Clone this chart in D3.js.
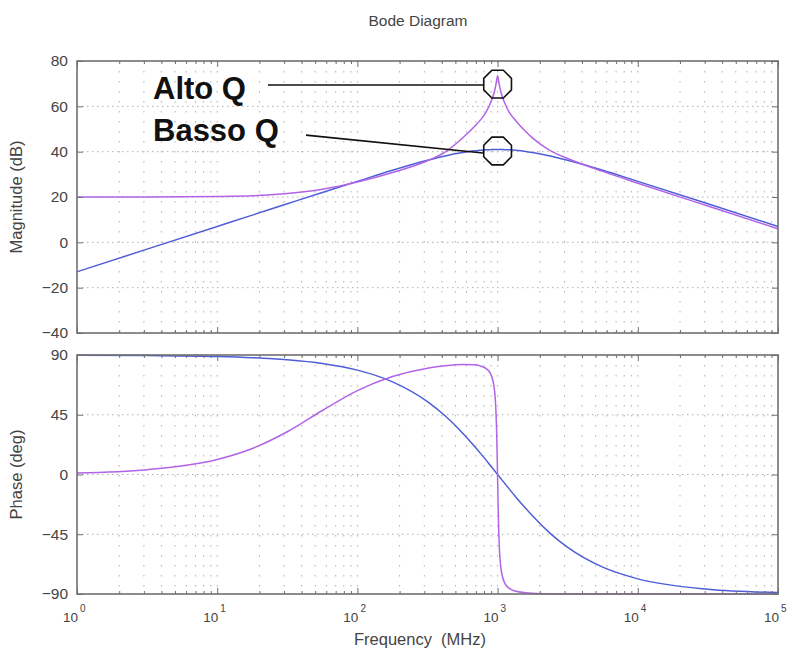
<!DOCTYPE html>
<html>
<head>
<meta charset="utf-8">
<script src="https://cdn.jsdelivr.net/npm/d3@7"></script>
<style>
  body { margin: 0; background: #fff; }
  svg text { font-family: "Liberation Sans", Arial, sans-serif; }
</style>
</head>
<body>
<svg id="chart" width="792" height="655"></svg>
<script>
// frequency samples (MHz), denser around the resonance at 1 GHz
const freq = [1, 3.16, 10, 17.8, 31.6, 56.2, 100, 178, 316, 422, 562, 681, 750, 825, 891, 944,
  972, 986, 1000, 1014, 1029, 1059, 1122, 1212, 1334, 1585, 1778, 2371, 3162, 5623, 10000, 31623, 100000];

// low Q response (blue)
const magLowQ = [-13.0, -3.0, 7.0, 12.0, 17.0, 22.0, 26.9, 31.8, 36.2, 38.1, 39.6, 40.4, 40.6, 40.8, 40.9, 41.0,
  41.0, 41.0, 41.0, 41.0, 41.0, 41.0, 40.9, 40.8, 40.6, 40.1, 39.6, 38.1, 36.2, 31.8, 26.9, 17.0, 7.0];
const phaseLowQ = [89.9, 89.6, 88.9, 88.0, 86.4, 83.6, 78.6, 69.8, 54.9, 44.2, 31.3, 21.5, 16.3, 11.0, 6.6, 3.3,
  1.6, 0.8, 0, -0.8, -1.6, -3.3, -6.6, -11.0, -16.3, -25.5, -31.3, -44.3, -54.9, -69.8, -78.6, -86.4, -88.9];

// high Q response (purple)
const magHighQ = [20.0, 20.0, 20.2, 20.5, 21.5, 23.4, 26.6, 30.8, 36.0, 39.8, 46.0, 51.0, 53.8, 57.3, 61.6, 66.0,
  69.5, 71.8, 73.5, 71.8, 69.5, 66.0, 61.6, 57.3, 54.0, 48.9, 46.0, 40.5, 37.0, 31.3, 26.1, 16.0, 6.0];
const phaseHighQ = [1.1, 3.6, 11.3, 19.6, 32.2, 48.2, 63.2, 73.8, 80.1, 81.9, 82.8, 82.6, 81.8, 79.9, 75.9, 65.9,
  48.8, 29.4, -2.9, -34.7, -54.8, -71.4, -81.6, -85.8, -87.8, -89.1, -89.5, -89.9, -90.0, -90.0, -90.0, -90.0, -90.0];

const magTicks = [-40, -20, 0, 20, 40, 60, 80];
const phaseTicks = [-90, -45, 0, 45, 90];
const decades = [1, 10, 100, 1000, 10000, 100000];

// callouts: label, marker centre (freq, dB), leader start and end (freq, dB)
const callouts = [
  { label: "Alto Q", marker: [1000, 69.8], from: [23, 69.4], to: [787, 69.4] },
  { label: "Basso Q", marker: [1000, 40.3], from: [43, 47.3], to: [787, 39.4] }
];

const blue = "#4e5ed8";
const purple = "#b264e6";
const frameColor = "#707070";
const textColor = "#444";

const svg = d3.select("#chart");
const left = 77, right = 778;

const x = d3.scaleLog().domain([1, 1e5]).range([left, right]);
const yMag = d3.scaleLinear().domain([-40, 80]).range([333, 61]);
const yPh = d3.scaleLinear().domain([-90, 90]).range([594, 355]);

// every log position 1..9 x 10^k
const logTicks = [];
decades.slice(0, -1).forEach(d => { for (let m = 1; m < 10; m++) logTicks.push(m * d); });
logTicks.push(1e5);
const minorTicks = logTicks.filter(v => !decades.includes(v));

function panel(y, yTicks, series, label) {
  const [y0, y1] = y.range();
  const g = svg.append("g");

  // dotted grid
  g.append("g").selectAll("line").data(logTicks.filter(v => v > 1 && v < 1e5)).join("line")
    .attr("x1", d => x(d)).attr("x2", d => x(d))
    .attr("y1", y1).attr("y2", y0)
    .attr("stroke", "#b0b0b0").attr("stroke-width", 1)
    .attr("stroke-dasharray", "1.5,8.5");
  g.append("g").selectAll("line").data(yTicks.slice(1, -1)).join("line")
    .attr("x1", left).attr("x2", right)
    .attr("y1", d => y(d)).attr("y2", d => y(d))
    .attr("stroke", "#b0b0b0").attr("stroke-width", 1)
    .attr("stroke-dasharray", "1.5,3.5");

  // curves
  const line = vals => d3.line()
    .x((d, i) => x(freq[i]))
    .y(d => y(d))
    .curve(d3.curveMonotoneX)(vals);
  series.forEach(s => {
    g.append("path").attr("d", line(s.values))
      .attr("fill", "none").attr("stroke", s.color).attr("stroke-width", 1.5);
  });

  // inward ticks on all four sides
  const strip = a => a.call(s => s.select(".domain").remove())
    .call(s => s.selectAll(".tick line").attr("stroke", frameColor));
  [[d3.axisBottom, y0], [d3.axisTop, y1]].forEach(([ax, pos]) => {
    g.append("g").attr("transform", `translate(0,${pos})`)
      .call(ax(x).tickValues(minorTicks).tickSize(-3).tickFormat("")).call(strip);
    g.append("g").attr("transform", `translate(0,${pos})`)
      .call(ax(x).tickValues(decades).tickSize(-6).tickFormat("")).call(strip);
  });
  g.append("g").attr("transform", `translate(${right},0)`)
    .call(d3.axisRight(y).tickValues(yTicks).tickSize(-6).tickFormat("")).call(strip);
  const yAxis = g.append("g").attr("transform", `translate(${left},0)`)
    .call(d3.axisLeft(y).tickValues(yTicks).tickSize(-6).tickPadding(9)).call(strip);
  yAxis.selectAll("text")
    .attr("fill", textColor).attr("font-size", 15.5)
    .attr("font-family", "'Liberation Sans', Arial, sans-serif");

  g.append("rect")
    .attr("x", left).attr("y", y1)
    .attr("width", right - left).attr("height", y0 - y1)
    .attr("fill", "none").attr("stroke", frameColor).attr("stroke-width", 1.6);

  g.append("text")
    .attr("transform", `translate(22,${(y0 + y1) / 2}) rotate(-90)`)
    .attr("text-anchor", "middle")
    .attr("fill", textColor).attr("font-size", 16.5)
    .text(label);
}

panel(yMag, magTicks, [
  { values: magLowQ, color: blue },
  { values: magHighQ, color: purple }
], "Magnitude (dB)");

panel(yPh, phaseTicks, [
  { values: phaseLowQ, color: blue },
  { values: phaseHighQ, color: purple }
], "Phase (deg)");

// decade labels 10^k under the phase panel
const xl = svg.append("g");
decades.forEach((d, k) => {
  xl.append("text")
    .attr("x", x(d) + 1).attr("y", 622)
    .attr("text-anchor", "end")
    .attr("fill", textColor).attr("font-size", 13.5)
    .text("10");
  xl.append("text")
    .attr("x", x(d) + 3).attr("y", 612)
    .attr("fill", textColor).attr("font-size", 10)
    .text(k);
});

svg.append("text")
  .attr("x", 420).attr("y", 645)
  .attr("text-anchor", "middle")
  .attr("fill", textColor).attr("font-size", 16.5)
  .attr("xml:space", "preserve")
  .text("Frequency  (MHz)");

svg.append("text")
  .attr("x", 418).attr("y", 26)
  .attr("text-anchor", "middle")
  .attr("fill", textColor).attr("font-size", 15.5)
  .text("Bode Diagram");

// octagonal markers, leaders and bold labels
function octagon(cx, cy, r) {
  const pts = d3.range(8).map(k => {
    const a = Math.PI / 8 + k * Math.PI / 4;
    return [cx + r * Math.cos(a), cy + r * Math.sin(a)];
  });
  return d3.line()(pts) + "Z";
}

const ann = svg.append("g");
callouts.forEach((c, i) => {
  ann.append("line")
    .attr("x1", x(c.from[0])).attr("y1", yMag(c.from[1]))
    .attr("x2", x(c.to[0])).attr("y2", yMag(c.to[1]))
    .attr("stroke", "#111").attr("stroke-width", 1.6);
  ann.append("path")
    .attr("d", octagon(x(c.marker[0]), yMag(c.marker[1]), 15))
    .attr("fill", "none").attr("stroke", "#111").attr("stroke-width", 1.6);
  ann.append("text")
    .attr("x", 153).attr("y", i === 0 ? 99 : 141)
    .attr("font-size", 31).attr("font-weight", "bold")
    .attr("fill", "#111")
    .text(c.label);
});
</script>
</body>
</html>
